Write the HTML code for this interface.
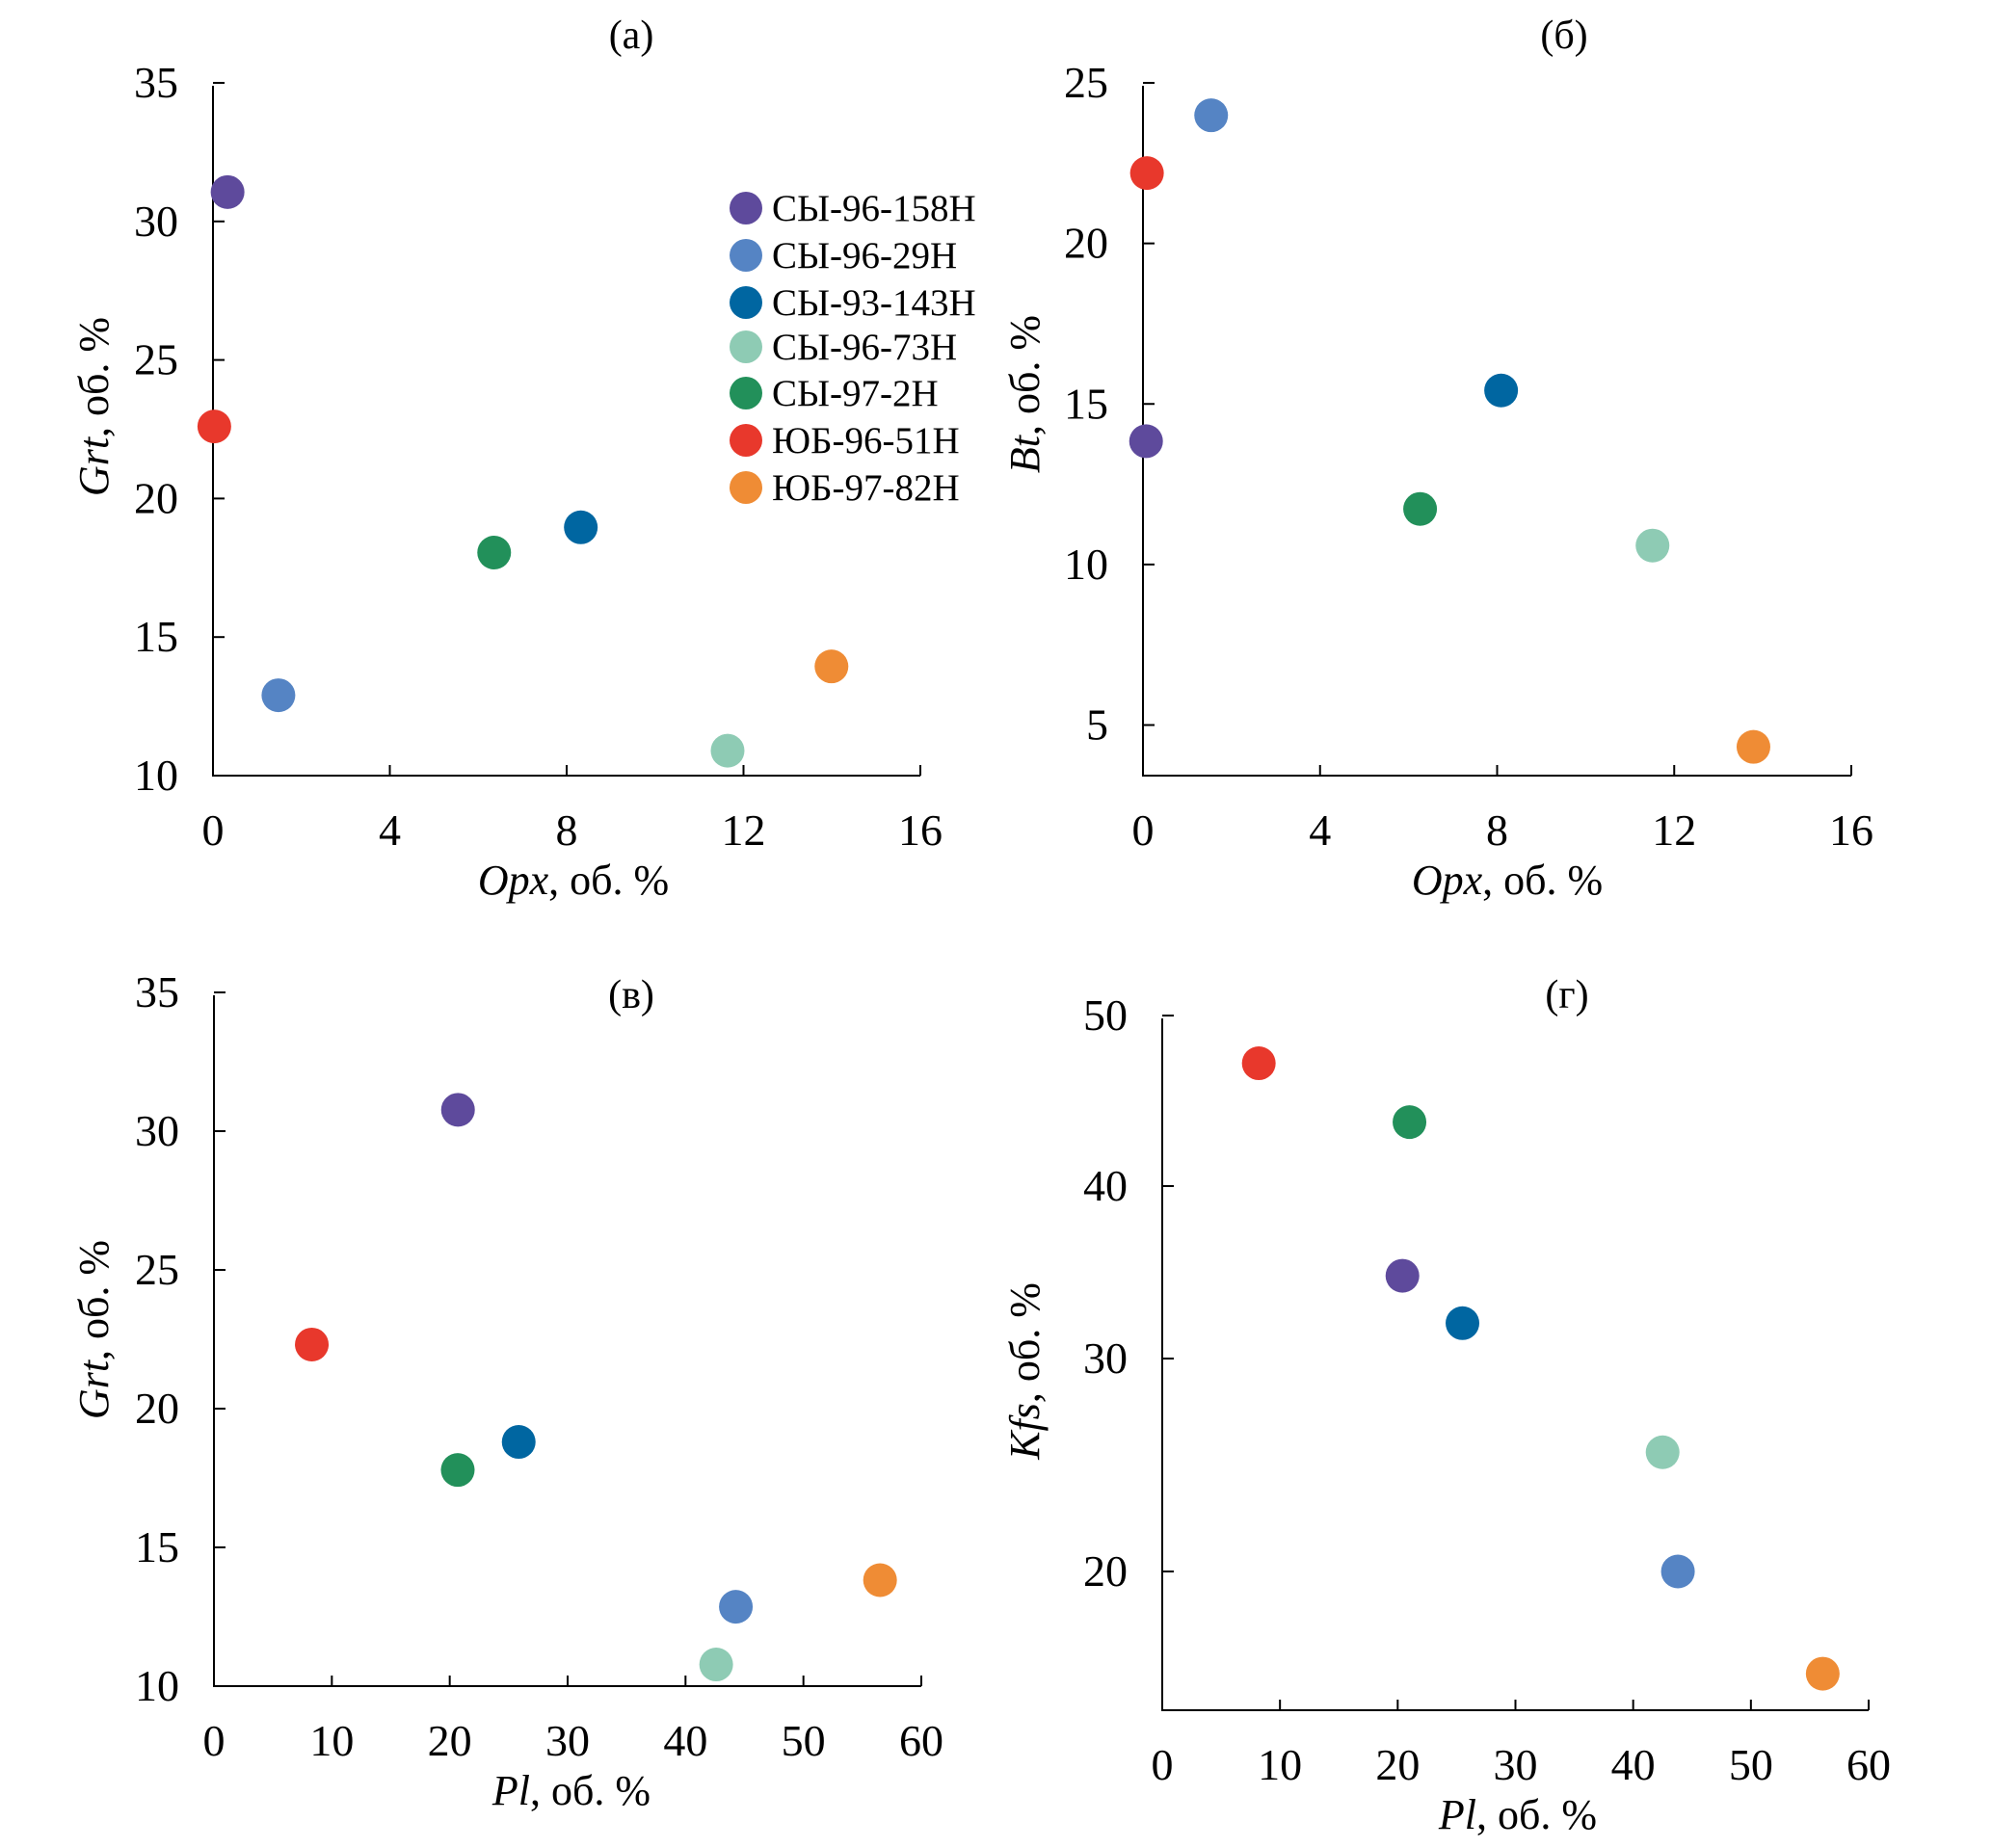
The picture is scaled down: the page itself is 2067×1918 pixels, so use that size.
<!DOCTYPE html>
<html><head><meta charset="utf-8"><style>
html,body{margin:0;padding:0;background:#fff;}
svg{display:block;font-family:"Liberation Serif",serif;}
</style></head><body>
<svg id="fig" width="2067" height="1918" viewBox="0 0 2067 1918" xmlns="http://www.w3.org/2000/svg"></svg>
<script>
// Shared data
const sampleNames = ["СЫ-96-158Н","СЫ-96-29Н","СЫ-93-143Н","СЫ-96-73Н","СЫ-97-2Н","ЮБ-96-51Н","ЮБ-97-82Н"];
const sampleColors = ["#5e4a9c","#5584c4","#0066a1","#8ecbb4","#22905a","#e8382c","#ef8c35"];
// Panel (a): Opx vs Grt
const aOpx = [0.33, 1.48, 8.32, 11.64, 6.36, 0.03, 13.99];
const aGrt = [31.06, 12.9, 18.96, 10.9, 18.05, 22.6, 13.94];
// Panel (б): Opx vs Bt
const bOpx = [0.07, 1.54, 8.09, 11.51, 6.26, 0.09, 13.79];
const bBt = [13.84, 23.99, 15.42, 10.59, 11.73, 22.19, 4.32];
// Panel (в): Pl vs Grt
const vPl = [20.7, 44.27, 25.85, 42.6, 20.68, 8.3, 56.5];
const vGrt = [30.77, 12.86, 18.8, 10.78, 17.79, 22.31, 13.82];
// Panel (г): Pl vs Kfs
const gPl = [20.4, 43.8, 25.5, 42.5, 21.0, 8.2, 56.1];
const gKfs = [34.8, 20.0, 32.05, 25.6, 43.75, 47.2, 15.2];
// Tick labels
const opxTicks = [0, 4, 8, 12, 16];
const plTicks = [0, 10, 20, 30, 40, 50, 60];
const grtTicks = [10, 15, 20, 25, 30, 35];
const btTicks = [5, 10, 15, 20, 25];
const kfsTicks = [20, 30, 40, 50];

const NS = "http://www.w3.org/2000/svg";
const svg = document.getElementById("fig");
function mk(tag, attrs, parent, text){
  const e = document.createElementNS(NS, tag);
  for (const k in attrs) e.setAttribute(k, attrs[k]);
  if (text !== undefined) e.textContent = text;
  (parent || svg).appendChild(e);
  return e;
}
function linScale(d0, d1, r0, r1){ return v => r0 + (v - d0) / (d1 - d0) * (r1 - r0); }
function pieceScale(dom, rng){
  return v => {
    let i = 0;
    if (v <= dom[dom.length-1]) i = dom.length - 2;
    else { for (i = 0; i < dom.length - 2; i++) if (v >= dom[i+1]) break; }
    return rng[i] + (v - dom[i]) / (dom[i+1] - dom[i]) * (rng[i+1] - rng[i]);
  };
}

function panel(o){
  const g = mk("g", {});
  
  
  const y0 = o.axisBottom, x0 = o.axisLeft;
  const ax = mk("path", {d:`M${x0} ${o.axisTop} V${y0} H${o.axisRight}`, stroke:"#000", "stroke-width":2, fill:"none"}, g);
  
  
  o.xTicks.forEach(t => {
    const x = o.xs(t);
    if (t !== o.xTicks[0]) {
      const tk = mk("line", {x1:x, x2:x, y1:y0, y2:y0-11, stroke:"#000", "stroke-width":2}, g);
      
      
    }
    const lb = mk("text", {x:x, y:y0+72, "text-anchor":"middle", "font-size":46}, g, String(t));
    
    
  });
  o.yTicks.forEach(t => {
    const y = o.ys(t);
    const tk = mk("line", {x1:x0, x2:x0+12, y1:y, y2:y, stroke:"#000", "stroke-width":2}, g);
    
    
    const lb = mk("text", {x:x0-36, y:y+15, "text-anchor":"end", "font-size":46}, g, String(t));
    
    
  });
  const title = mk("text", {x:o.titleX, y:o.titleY, "text-anchor":"middle", "font-size":42}, g, o.title);
  
  
  const xt = mk("text", {x:o.xtX, y:o.xtY, "text-anchor":"middle", "font-size":44}, g);
  
  
  mk("tspan", {"font-style":"italic"}, xt, o.xLabel);
  mk("tspan", {}, xt, ", об. %");
  const yt = mk("text", {x:0, y:0, "text-anchor":"middle", "font-size":44, transform:`translate(${o.ytX},${o.ytY}) rotate(-90)`}, g);
  
  
  mk("tspan", {"font-style":"italic"}, yt, o.yLabel);
  mk("tspan", {}, yt, ", об. %");
  o.xv.forEach((v, i) => {
    const c = mk("circle", {cx:o.xs(v), cy:o.ys(o.yv[i]), r:17.5, fill:sampleColors[i]}, g);
    
    
  });
}

panel({name:"panel-a", title:"(a)", titleX:655, titleY:50,
  axisLeft:221, axisRight:955, axisTop:89, axisBottom:805,
  xs:linScale(0,16,221,955), ys:linScale(10,35,805,86),
  xTicks:opxTicks, yTicks:grtTicks, xv:aOpx, yv:aGrt,
  xLabel:"Opx", yLabel:"Grt", xtX:595, xtY:928, ytX:112, ytY:422});

panel({name:"panel-b", title:"(б)", titleX:1623, titleY:50,
  axisLeft:1186, axisRight:1921, axisTop:89, axisBottom:805,
  xs:linScale(0,16,1186,1921), ys:linScale(5,25,752.5,86),
  xTicks:opxTicks, yTicks:btTicks, xv:bOpx, yv:bBt,
  xLabel:"Opx", yLabel:"Bt", xtX:1564, xtY:928, ytX:1078, ytY:409});

panel({name:"panel-v", title:"(в)", titleX:655, titleY:1046,
  axisLeft:222, axisRight:956, axisTop:1033, axisBottom:1750,
  xs:linScale(0,60,222,956), ys:linScale(10,35,1750,1030),
  xTicks:plTicks, yTicks:grtTicks, xv:vPl, yv:vGrt,
  xLabel:"Pl", yLabel:"Grt", xtX:593, xtY:1873, ytX:112, ytY:1380});

panel({name:"panel-g", title:"(г)", titleX:1626, titleY:1046,
  axisLeft:1206, axisRight:1939, axisTop:1057, axisBottom:1775,
  xs:linScale(0,60,1206,1939), ys:pieceScale([50,40,30,20],[1054,1231,1410,1631]),
  xTicks:plTicks, yTicks:kfsTicks, xv:gPl, yv:gKfs,
  xLabel:"Pl", yLabel:"Kfs", xtX:1575, xtY:1898, ytX:1078, ytY:1423});

// Legend (panel a)
const legendRowsY = [216, 265, 314, 360, 408, 457, 506];
const lg = mk("g", {});


sampleNames.forEach((n, i) => {
  const c = mk("circle", {cx:774, cy:legendRowsY[i], r:17, fill:sampleColors[i]}, lg);
  
  
  const t = mk("text", {x:801, y:legendRowsY[i]+13, "font-size":39}, lg, n);
  
  
});
</script>
</body></html>
